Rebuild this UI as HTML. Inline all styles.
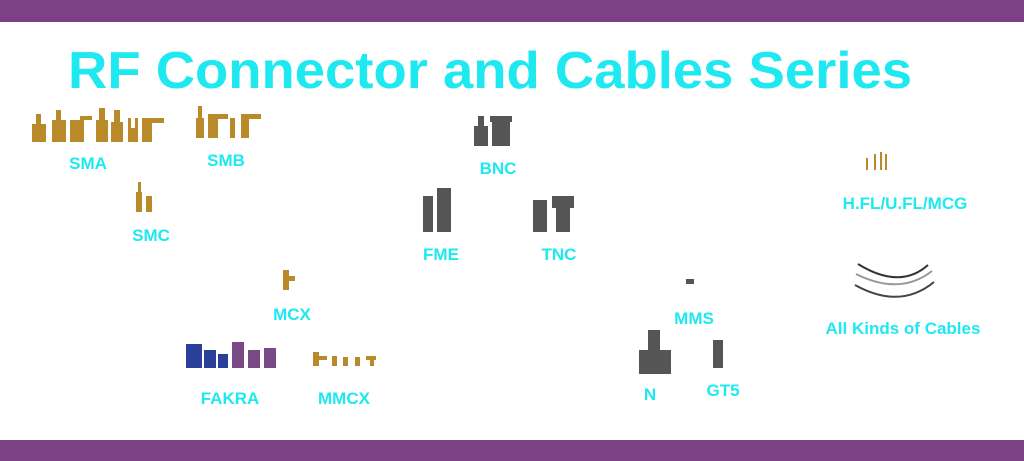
<!DOCTYPE html>
<html><head><style>
html,body{margin:0;padding:0;background:#fff}
svg{display:block}
text{font-family:"Liberation Sans",sans-serif;font-weight:bold;fill:#1ee8f0}
</style></head><body>
<svg width="1024" height="461" viewBox="0 0 1024 461">
<rect x="0" y="0" width="1024" height="22" fill="#7b4184"/>
<rect x="0" y="440" width="1024" height="21" fill="#7b4184"/>
<text x="68" y="88" font-size="52" textLength="844" lengthAdjust="spacingAndGlyphs">RF Connector and Cables Series</text>
<g font-size="17" text-anchor="middle">
<text x="88" y="169">SMA</text>
<text x="226" y="166">SMB</text>
<text x="151" y="241">SMC</text>
<text x="498" y="174">BNC</text>
<text x="441" y="260">FME</text>
<text x="559" y="260">TNC</text>
<text x="905" y="209">H.FL/U.FL/MCG</text>
<text x="292" y="320">MCX</text>
<text x="694" y="324">MMS</text>
<text x="903" y="334">All Kinds of Cables</text>
<text x="230" y="404">FAKRA</text>
<text x="344" y="404">MMCX</text>
<text x="650" y="400">N</text>
<text x="723" y="396">GT5</text>
</g>
<g fill="#b88a2a">
<!-- SMA -->
<rect x="32" y="124" width="14" height="18"/><rect x="36" y="114" width="5" height="12"/>
<rect x="52" y="120" width="14" height="22"/><rect x="56" y="110" width="5" height="12"/>
<rect x="70" y="120" width="14" height="22"/><rect x="80" y="116" width="12" height="4"/>
<rect x="96" y="120" width="12" height="22"/><rect x="99" y="108" width="6" height="12"/>
<rect x="111" y="122" width="12" height="20"/><rect x="114" y="110" width="6" height="12"/>
<rect x="128" y="128" width="10" height="14"/><rect x="128" y="118" width="3" height="10"/><rect x="135" y="118" width="3" height="10"/>
<rect x="142" y="120" width="10" height="22"/><rect x="142" y="118" width="22" height="5"/>
<!-- SMB -->
<rect x="196" y="118" width="8" height="20"/><rect x="198" y="106" width="4" height="12"/>
<rect x="208" y="114" width="10" height="24"/><rect x="210" y="114" width="18" height="5"/>
<rect x="230" y="122" width="5" height="16"/><rect x="230" y="118" width="5" height="4"/>
<rect x="241" y="116" width="8" height="22"/><rect x="241" y="114" width="20" height="5"/>
<!-- SMC -->
<rect x="136" y="192" width="6" height="20"/><rect x="138" y="182" width="3" height="10"/>
<rect x="146" y="196" width="6" height="16"/>
<!-- MCX -->
<rect x="283" y="270" width="6" height="20"/><rect x="283" y="276" width="12" height="5"/>
<!-- MMCX -->
<rect x="313" y="352" width="6" height="14"/><rect x="313" y="356" width="14" height="4"/>
<rect x="332" y="356" width="5" height="10"/><rect x="343" y="357" width="5" height="9"/><rect x="355" y="357" width="5" height="9"/>
<rect x="366" y="356" width="10" height="4"/><rect x="370" y="356" width="4" height="10"/>
<!-- HFL -->
<rect x="866" y="158" width="2" height="12"/><rect x="874" y="154" width="2" height="16"/><rect x="880" y="152" width="2" height="18"/><rect x="885" y="154" width="2" height="16"/>
</g>
<!-- FAKRA -->
<g fill="#2a3f9a">
<rect x="186" y="344" width="16" height="24"/><rect x="204" y="350" width="12" height="18"/><rect x="218" y="354" width="10" height="14"/>
</g>
<g fill="#7a4a86">
<rect x="232" y="342" width="12" height="26"/><rect x="248" y="350" width="12" height="18"/><rect x="264" y="348" width="12" height="20"/>
</g>
<!-- dark metal -->
<g fill="#555">
<rect x="474" y="126" width="14" height="20"/><rect x="478" y="116" width="6" height="10"/>
<rect x="492" y="120" width="18" height="26"/><rect x="490" y="116" width="22" height="6"/>
<rect x="423" y="196" width="10" height="36"/><rect x="437" y="188" width="14" height="44"/>
<rect x="533" y="200" width="14" height="32"/><rect x="552" y="196" width="22" height="12"/><rect x="556" y="208" width="14" height="24"/>
<rect x="686" y="279" width="8" height="5"/>
<rect x="639" y="350" width="32" height="24"/><rect x="648" y="330" width="12" height="22"/>
<rect x="713" y="340" width="10" height="28"/>
</g>
<!-- cables -->
<g fill="none" stroke-width="2">
<path d="M858 264 Q900 290 928 265" stroke="#333"/>
<path d="M856 274 Q900 296 932 271" stroke="#999"/>
<path d="M855 285 Q900 310 934 282" stroke="#444"/>
</g>
</svg>
</body></html>
